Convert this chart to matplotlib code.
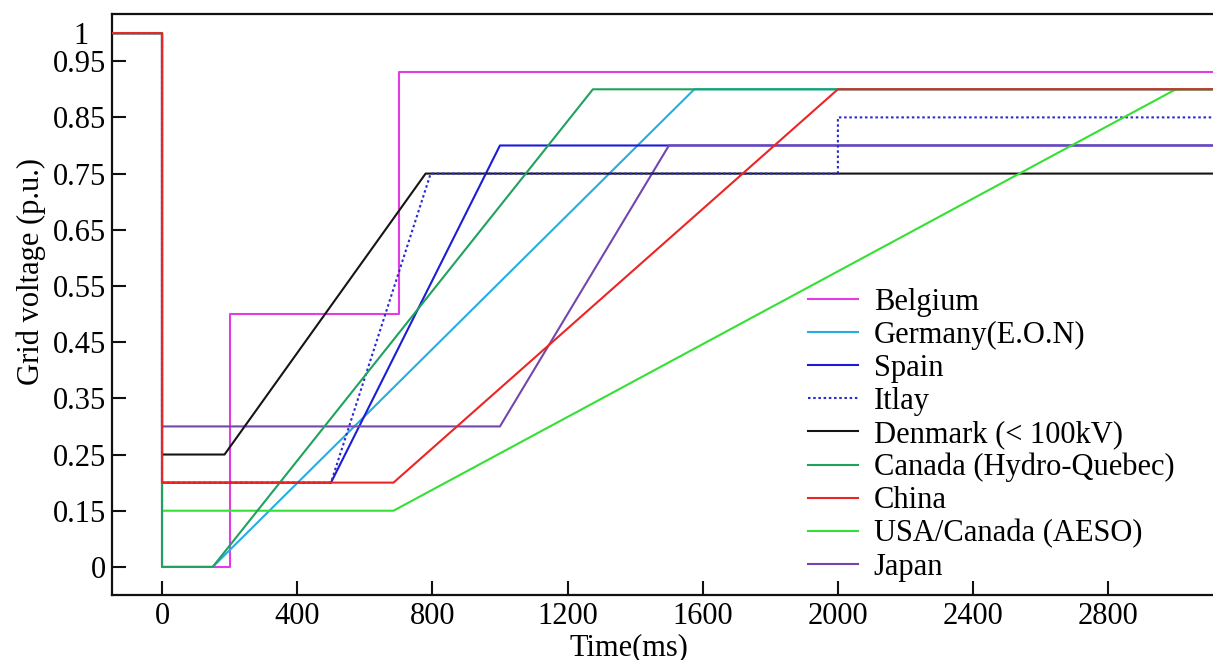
import numpy as np
import matplotlib
matplotlib.use("Agg")
import matplotlib.pyplot as plt

plt.rcParams['font.family'] = ['Liberation Serif', 'DejaVu Serif']
plt.rcParams['mathtext.fontset'] = 'stix'

# Voltage ride-through profiles (time in ms, voltage in p.u.)
belgium_t = [-150, 0, 0, 200, 200, 700, 700, 3200]
belgium_v = [1, 1, 0, 0, 0.5, 0.5, 0.93, 0.93]

germany_t = [-150, 0, 0, 150, 1575, 3200]
germany_v = [1, 1, 0, 0, 0.9, 0.9]

spain_t = [-150, 0, 0, 500, 1000, 3200]
spain_v = [1, 1, 0.2, 0.2, 0.8, 0.8]

italy_t = [-150, 0, 0, 500, 795, 2000, 2000, 3200]
italy_v = [1, 1, 0.2, 0.2, 0.75, 0.75, 0.85, 0.85]

denmark_t = [-150, 0, 0, 185, 780, 3200]
denmark_v = [1, 1, 0.25, 0.25, 0.75, 0.75]

canada_t = [-150, 0, 0, 150, 1275, 3200]
canada_v = [1, 1, 0, 0, 0.9, 0.9]

china_t = [-150, 0, 0, 685, 2000, 3200]
china_v = [1, 1, 0.2, 0.2, 0.9, 0.9]

usa_t = [-150, 0, 0, 685, 3000, 3200]
usa_v = [1, 1, 0.15, 0.15, 0.9, 0.9]

japan_t = [-150, 0, 0, 1000, 1500, 3200]
japan_v = [1, 1, 0.3, 0.3, 0.8, 0.8]

ytick_vals = [0, 0.15, 0.25, 0.35, 0.45, 0.55, 0.65, 0.75, 0.85, 0.95, 1.0]
ytick_labels = ['0', '0.15', '0.25', '0.35', '0.45', '0.55', '0.65', '0.75', '0.85', '0.95', '1']
xtick_vals = [0, 400, 800, 1200, 1600, 2000, 2400, 2800]

# the y axis of the original is piecewise: ticks evenly spaced, last one half a step
ypos = [0, 1, 2, 3, 4, 5, 6, 7, 8, 9, 9.5]


def fwd(v):
    v = np.asarray(v, dtype=float)
    out = np.interp(v, ytick_vals, ypos)
    out = np.where(v < 0, v / 0.15, out)
    out = np.where(v > 1, 9.5 + (v - 1) / 0.1, out)
    return out


def inv(p):
    p = np.asarray(p, dtype=float)
    out = np.interp(p, ypos, ytick_vals)
    out = np.where(p < 0, p * 0.15, out)
    out = np.where(p > 9.5, 1 + (p - 9.5) * 0.1, out)
    return out


fig = plt.figure(figsize=(12.13, 6.6), dpi=100)
ax = fig.add_axes([112 / 1213, 65 / 660, 1.0 - 112 / 1213, 581 / 660])
ax.set_yscale('function', functions=(fwd, inv))

lw = 1.5
series = [
    ("Belgium", belgium_t, belgium_v, '#e23de2', '-', 2.0),
    ("Germany(E.O.N)", germany_t, germany_v, '#27aee0', '-', 2.1),
    ("Spain", spain_t, spain_v, '#1c1cd8', '-', 2.2),
    ("Itlay", italy_t, italy_v, '#2a2ad0', (0, (1.2, 1.3)), 2.5),
    ("Denmark (< 100kV)", denmark_t, denmark_v, '#151515', '-', 2.4),
    ("Canada (Hydro-Quebec)", canada_t, canada_v, '#1fa25e', '-', 2.7),
    ("China", china_t, china_v, '#ec2424', '-', 2.8),
    ("USA/Canada (AESO)", usa_t, usa_v, '#35e035', '-', 2.6),
    ("Japan", japan_t, japan_v, '#7446ac', '-', 2.3),
]

handles = []
for name, t, v, c, ls, z in series:
    h, = ax.plot(t, v, color=c, linestyle=ls, lw=lw, zorder=z, label=name)
    handles.append(h)

ax.set_xlim(-148, 3110)
ax.set_ylim(inv(-0.5), inv(9.84))

ax.set_xticks(xtick_vals)
ax.set_xticklabels([str(x) for x in xtick_vals])
ax.set_yticks(ytick_vals)
ax.set_yticklabels(ytick_labels)
ax.tick_params(direction='in', length=10, width=1.5, labelsize=22, color='#111111')
ax.tick_params(axis='x', pad=5)
ax.tick_params(axis='y', pad=4)
ax.yaxis.get_major_ticks()[-1].tick1line.set_visible(False)
ax.yaxis.get_major_ticks()[-1].set_pad(17)
ax.minorticks_off()

for s in ['left', 'bottom', 'top']:
    ax.spines[s].set_linewidth(1.6)
    ax.spines[s].set_color('#111111')
ax.spines['right'].set_visible(False)

ax.set_xlabel("Time(ms)", fontsize=22)
ax.xaxis.set_label_coords(0.4696, -0.09)
ax.xaxis.label.set_va('center')
ax.set_ylabel("Grid voltage (p.u.)", fontsize=22)
ax.yaxis.set_label_coords(-0.073, 0.556)
ax.yaxis.label.set_va('center')

leg = ax.legend(handles=handles, loc='upper left',
                bbox_to_anchor=(808 / 1213, 1 - 288 / 660),
                bbox_transform=fig.transFigure, frameon=False,
                fontsize=22, handlelength=1.65, handletextpad=0.5,
                labelspacing=0.13, borderpad=0, borderaxespad=0)

fig.savefig("out.png", dpi=100)
